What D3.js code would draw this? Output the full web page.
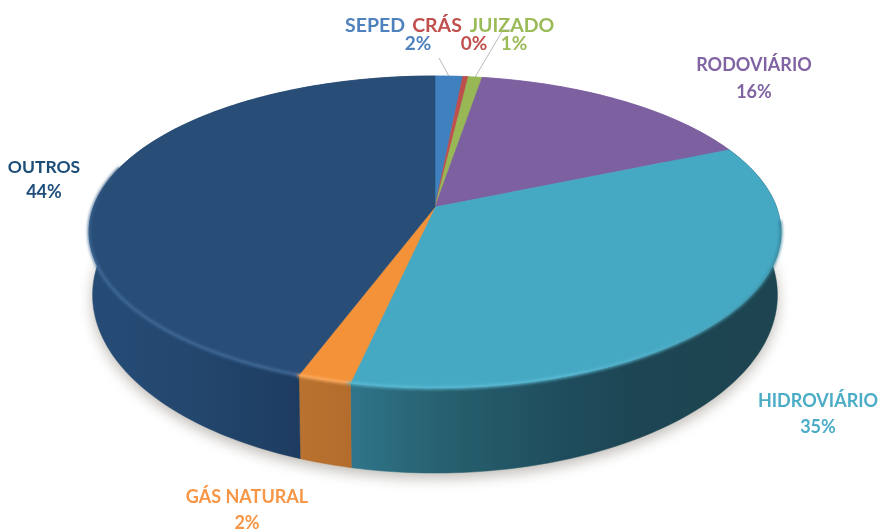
<!DOCTYPE html>
<html>
<head>
<meta charset="utf-8">
<script src="https://cdn.jsdelivr.net/npm/d3@7"></script>
<style>
  html, body { margin: 0; padding: 0; background: #fff; }
  text { font-family: Lato, "Open Sans", sans-serif; font-weight: 700; text-anchor: middle; }
</style>
</head>
<body>
<div id="chart"></div>
<script>
// data
const categories = ['SEPED', 'CRÁS', 'JUIZADO', 'RODOVIÁRIO', 'HIDROVIÁRIO', 'GÁS NATURAL', 'OUTROS'];
const shares = [1.5, 0.3, 0.75, 15.9, 34.9, 2.15, 44.5];
const shareLabels = ['2%', '0%', '1%', '16%', '35%', '2%', '44%'];

const topColors = ['#3f80bf', '#bf4f4d', '#97b855', '#7d60a0', '#46a9c4', '#f39239', '#284d76'];
const rimColors = ['#5c97d0', '#d06a68', '#aecb70', '#9479b5', '#5fc0d9', '#ffb066', '#44709f'];
const labelColors = ['#4f81bd', '#c0504d', '#9bbb59', '#8064a2', '#4bacc6', '#f79646', '#1f4e79'];

const width = 882;
const height = 532;

// perspective disc: cy is where the slices meet, k is how much the front swells
const topDisc = { cx: 435, cy: 207, rx: 341.5, ry: 152, k: 0.16 };
const bottomDisc = { cx: 435, cy: 266.5, rx: 338, ry: 173.5, k: 0.16 };

const rad = Math.PI / 180;

function project(disc, a) {
    const u = Math.sin(a);
    const v = -Math.cos(a);
    const w = 1 - disc.k * v;
    return [disc.cx + disc.rx * u / w, disc.cy + disc.ry * v / w];
}

function rimPoints(disc, a0, a1) {
    const n = Math.max(2, Math.ceil((a1 - a0) / 0.02));
    return d3.range(n + 1).map(i => project(disc, a0 + (a1 - a0) * i / n));
}

const line = d3.line();

const svg = d3.select('#chart')
    .append('svg')
    .attr('width', width)
    .attr('height', height)
    .style('display', 'block');

const defs = svg.append('defs');

defs.append('filter').attr('id', 'shadow-blur')
    .attr('x', '-10%').attr('y', '-10%').attr('width', '120%').attr('height', '120%')
    .append('feGaussianBlur').attr('stdDeviation', 7);

defs.append('filter').attr('id', 'rim-blur')
    .attr('filterUnits', 'userSpaceOnUse')
    .attr('x', 0).attr('y', 0).attr('width', width).attr('height', height)
    .append('feGaussianBlur').attr('stdDeviation', 1.4);

defs.append('filter').attr('id', 'text-soft')
    .attr('x', '-5%').attr('y', '-10%').attr('width', '110%').attr('height', '120%')
    .append('feGaussianBlur').attr('stdDeviation', 0.35);

// side wall shading runs left to right, one ramp per visible slice
const sideRamps = {
    'GÁS NATURAL': [[299, '#b9722f'], [354, '#b36c2c']],
    'OUTROS': [[90, '#264c76'], [200, '#23466d'], [300, '#1e3c60']],
    'HIDROVIÁRIO': [[354, '#2f7489'], [440, '#27616f'], [560, '#1f4d5e'], [640, '#1d4553'], [785, '#1d444f']]
};

function sideFill(name, i) {
    const ramp = sideRamps[name];
    if (!ramp) return topColors[i];
    const id = 'side-' + i;
    const grad = defs.append('linearGradient').attr('id', id)
        .attr('gradientUnits', 'userSpaceOnUse')
        .attr('x1', ramp[0][0]).attr('x2', ramp[ramp.length - 1][0])
        .attr('y1', 0).attr('y2', 0);
    const span = ramp[ramp.length - 1][0] - ramp[0][0];
    ramp.forEach(s => {
        grad.append('stop').attr('offset', (s[0] - ramp[0][0]) / span).attr('stop-color', s[1]);
    });
    return `url(#${id})`;
}

const slices = d3.pie().sort(null)(shares);
const sideFills = categories.map(sideFill);

// Drop shadow under the disc
svg.append('path')
    .attr('d', line(rimPoints(bottomDisc, 0, 2 * Math.PI)) + 'Z')
    .attr('transform', 'translate(0,5)')
    .attr('fill', '#8a8378')
    .attr('opacity', 0.55)
    .attr('filter', 'url(#shadow-blur)');

// Side wall
svg.append('g').selectAll('path')
    .data(slices)
    .join('path')
    .attr('d', d => {
        const upper = rimPoints(topDisc, d.startAngle, d.endAngle);
        const lower = rimPoints(bottomDisc, d.startAngle, d.endAngle).reverse();
        return line(upper.concat(lower)) + 'Z';
    })
    .attr('fill', (d, i) => sideFills[i])
    .attr('stroke', (d, i) => sideFills[i])
    .attr('stroke-width', 0.5);

// Top face
svg.append('g').selectAll('path')
    .data(slices)
    .join('path')
    .attr('d', d => line([[topDisc.cx, topDisc.cy]].concat(rimPoints(topDisc, d.startAngle, d.endAngle))) + 'Z')
    .attr('fill', (d, i) => topColors[i])
    .attr('stroke', (d, i) => topColors[i])
    .attr('stroke-width', 0.5);

// Bevel along the front of the rim: short pieces so the light can fade in and out
const bevelStrength = d3.scaleLinear().domain([95, 160, 250, 285]).range([0, 1, 1, 0]).clamp(true);
const bevelBase = i => (categories[i] === 'HIDROVIÁRIO' ? '#2f7c92' : topColors[i]);
const bevelPieces = d3.range(95, 285, 1.5).map(deg => {
    const index = slices.findIndex(s => deg * rad >= s.startAngle && deg * rad < s.endAngle);
    return { deg, index };
});

svg.append('g')
    .attr('filter', 'url(#rim-blur)')
    .selectAll('path')
    .data(bevelPieces)
    .join('path')
    .attr('d', d => line(rimPoints(topDisc, d.deg * rad, (d.deg + 1.7) * rad)))
    .attr('fill', 'none')
    .attr('stroke', d => d3.interpolateRgb(bevelBase(d.index), rimColors[d.index])(bevelStrength(d.deg)))
    .attr('stroke-width', 2.5);

// Leader lines for the two labels pulled away from their slices
const leaderEnds = { 0: [[439, 58]], 2: [[503, 30], [513, 30]] };
svg.append('g').selectAll('path')
    .data(Object.keys(leaderEnds))
    .join('path')
    .attr('d', i => {
        const s = slices[+i];
        return line([project(topDisc, (s.startAngle + s.endAngle) / 2)].concat(leaderEnds[i]));
    })
    .attr('fill', 'none')
    .attr('stroke', '#a6a6a6')
    .attr('stroke-width', 0.8);

// Labels: name line and share line sit at their own spots
const namePos = [[375, 32], [437, 32], [512, 32], [754, 71], [818, 407], [247, 503], [44, 173]];
const sharePos = [[418, 50], [474, 50], [514, 50], [754, 98], [818, 433], [247, 529], [44, 198]];
const nameSize = [19.5, 19.5, 19.5, 18, 18, 18, 17.5];
const shareSize = [19, 19, 19, 18, 18, 18, 18];

svg.append('g').selectAll('text')
    .data(categories)
    .join('text')
    .attr('x', (d, i) => namePos[i][0])
    .attr('y', (d, i) => namePos[i][1])
    .attr('font-size', (d, i) => nameSize[i])
    .attr('fill', (d, i) => labelColors[i])
    .attr('filter', 'url(#text-soft)')
    .text(d => d);

svg.append('g').selectAll('text')
    .data(shareLabels)
    .join('text')
    .attr('x', (d, i) => sharePos[i][0])
    .attr('y', (d, i) => sharePos[i][1])
    .attr('font-size', (d, i) => shareSize[i])
    .attr('fill', (d, i) => labelColors[i])
    .attr('filter', 'url(#text-soft)')
    .text(d => d);
</script>
</body>
</html>
